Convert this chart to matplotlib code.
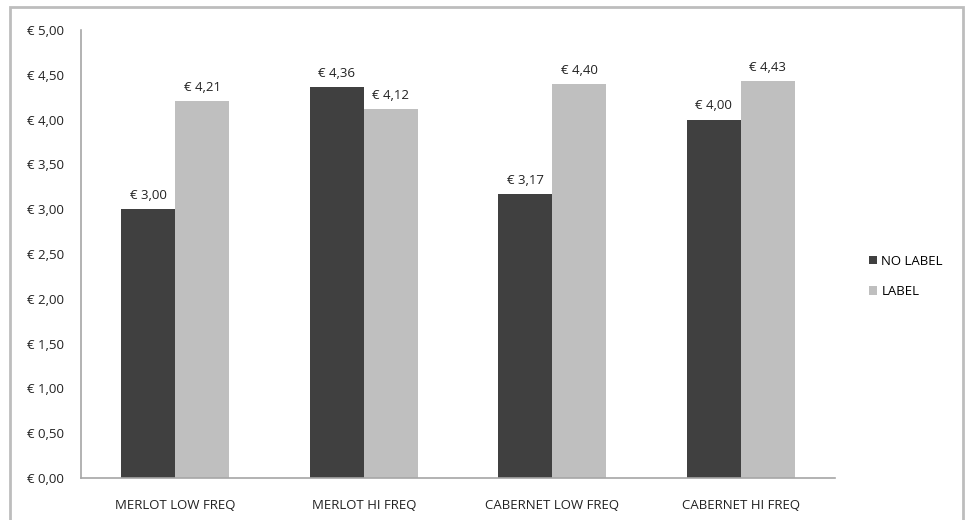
import numpy as np
import matplotlib.pyplot as plt
from matplotlib.patches import Rectangle

plt.rcParams['font.family'] = ['Open Sans', 'DejaVu Sans']

categories = ['MERLOT LOW FREQ', 'MERLOT HI FREQ', 'CABERNET LOW FREQ', 'CABERNET HI FREQ']
no_label = [3.00, 4.36, 3.17, 4.00]
label = [4.21, 4.12, 4.40, 4.43]
yticks = np.arange(0, 5.01, 0.5)

dark = '#404040'
light = '#bfbfbf'
grey = '#a6a6a6'

fig = plt.figure(figsize=(9.65, 5.2), dpi=100)
# outer chart frame
fig.patches.append(Rectangle((10 / 965, -0.05), 953 / 965, 1 - 7 / 520 + 0.05,
                             transform=fig.transFigure, fill=False,
                             edgecolor='#bdbdbd', linewidth=2))

ax = fig.add_axes([81 / 965, 1 - 478 / 520, 754 / 965, 448 / 520])

x = np.arange(len(categories))
w = 0.286
b1 = ax.bar(x - w / 2, no_label, w, color=dark, label='NO LABEL')
b2 = ax.bar(x + w / 2, label, w, color=light, label='LABEL')

fmt = lambda v: '€ ' + f'{v:.2f}'.replace('.', ',')
for bars, vals in ((b1, no_label), (b2, label)):
    for r, v in zip(bars, vals):
        ax.text(r.get_x() + r.get_width() / 2, v + 0.08, fmt(v),
                ha='center', va='bottom', fontsize=9.5, color='#222222')

ax.set_xlim(-0.5, 3.5)
ax.set_ylim(0, 5)
ax.set_yticks(yticks)
ax.set_yticklabels([fmt(v) for v in yticks], fontsize=9.5, color='#222222')
ax.set_xticks(x)
ax.set_xticklabels(categories, fontsize=9.5, color='#222222')
ax.tick_params(length=0)
ax.tick_params(axis='y', pad=12)
ax.tick_params(axis='x', pad=15)

for s in ('top', 'right'):
    ax.spines[s].set_visible(False)
for s in ('left', 'bottom'):
    ax.spines[s].set_color(grey)
    ax.spines[s].set_linewidth(1.2)

ax.legend(loc='center left', bbox_to_anchor=(1.03, 0.45), frameon=False,
          fontsize=9.5, handlelength=0.6, handleheight=0.6, handletextpad=0.3,
          labelspacing=1.3)

fig.savefig('out.png', dpi=100)
